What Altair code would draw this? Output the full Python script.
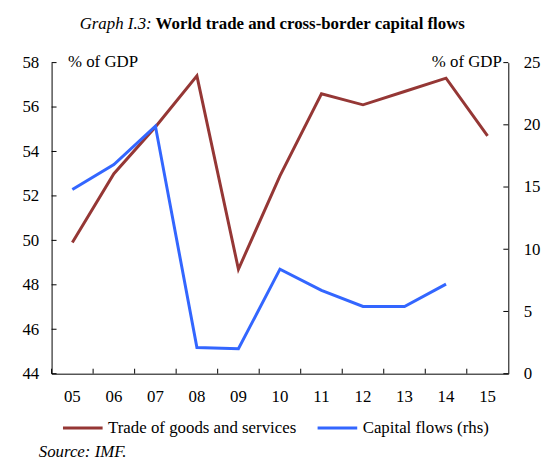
import altair as alt
import pandas as pd

years = ["05", "06", "07", "08", "09", "10", "11", "12", "13", "14", "15"]
trade = [49.9, 53.0, 55.1, 57.4, 48.7, 52.9, 56.6, 56.1, 56.7, 57.3, 54.7]
cap_years = ["05", "06", "07", "08", "09", "10", "11", "12", "13", "14"]
capital = [14.8, 16.8, 19.9, 2.1, 2.0, 8.4, 6.7, 5.4, 5.4, 7.2]
series = ["Trade of goods and services", "Capital flows (rhs)"]
colors = ["#953735", "#3366ff"]
left_ticks = [44, 46, 48, 50, 52, 54, 56, 58]
right_ticks = [0, 5, 10, 15, 20, 25]
left_domain = [44, 58]
right_domain = [0, 25]

FONT = "Liberation Serif"
FS = 17
W, H = 461, 314
TICK = 5

df_trade = pd.DataFrame({"year": years, "value": trade, "series": series[0]})
df_cap = pd.DataFrame({"year": cap_years, "value": capital, "series": series[1]})

xscale = alt.Scale(type="band", domain=years, paddingInner=0, paddingOuter=0)
xenc = alt.X(
    "year:O",
    bandPosition=0.5,
    scale=xscale,
    axis=alt.Axis(
        title=None, labelAngle=0, domain=False, ticks=False,
        labelPadding=15, grid=False,
    ),
)
color = alt.Color(
    "series:N",
    scale=alt.Scale(domain=series, range=colors),
    legend=alt.Legend(
        title=None, orient="none", legendX=10, legendY=347, direction="horizontal",
        symbolType="stroke", symbolSize=1600, symbolStrokeWidth=3,
        labelFont=FONT, labelFontSize=FS, labelColor="black", labelOffset=4,
        columnPadding=14, labelLimit=400,
    ),
)

trade_line = alt.Chart(df_trade).mark_line(strokeWidth=3).encode(
    x=xenc,
    y=alt.Y(
        "value:Q",
        scale=alt.Scale(domain=left_domain, nice=False, zero=False),
        axis=alt.Axis(
            values=left_ticks, orient="left", domain=False, ticks=False,
            labelPadding=13, grid=False, title="% of GDP", titleAngle=0,
            titleAlign="left", titleBaseline="alphabetic", titleX=16, titleY=4,
            titleFont=FONT, titleFontSize=FS, titleFontWeight="normal",
        ),
    ),
    color=color,
)

cap_line = alt.Chart(df_cap).mark_line(strokeWidth=3).encode(
    x=alt.X("year:O", bandPosition=0.5),
    y=alt.Y(
        "value:Q",
        scale=alt.Scale(domain=right_domain, nice=False),
        axis=alt.Axis(
            values=right_ticks, orient="right", domain=False, ticks=False,
            labelPadding=15, grid=False, title="% of GDP", titleAngle=0,
            titleAlign="right", titleBaseline="alphabetic", titleX=-7, titleY=4,
            titleFont=FONT, titleFontSize=FS, titleFontWeight="normal",
        ),
    ),
    color=color,
)

# inward tick marks, placed through the same scales as the axes
left_tick_marks = alt.Chart(pd.DataFrame({"v": left_ticks})).mark_rule(
    color="black", strokeWidth=1
).encode(
    y=alt.Y("v:Q", scale=alt.Scale(domain=left_domain, nice=False, zero=False), axis=None),
    x=alt.value(0), x2=alt.value(TICK),
)
right_tick_marks = alt.Chart(pd.DataFrame({"v": right_ticks})).mark_rule(
    color="black", strokeWidth=1
).encode(
    y=alt.Y("v:Q", scale=alt.Scale(domain=right_domain, nice=False), axis=None),
    x=alt.value(W - TICK), x2=alt.value(W),
)
x_tick_marks = alt.Chart(pd.DataFrame({"year": years})).mark_rule(
    color="black", strokeWidth=1
).encode(
    x=alt.X("year:O", bandPosition=0),
    y=alt.value(H - TICK), y2=alt.value(H),
)

title_prefix = alt.Chart(pd.DataFrame({"t": ["Graph I.3:"]})).mark_text(
    font=FONT, fontSize=17, fontStyle="italic", align="right", baseline="alphabetic"
).encode(text="t:N", x=alt.value(101), y=alt.value(-34))

title_main = alt.Chart(pd.DataFrame({"t": ["World trade and cross-border capital flows"]})).mark_text(
    font=FONT, fontSize=17, fontWeight="bold", align="left", baseline="alphabetic"
).encode(text="t:N", x=alt.value(105), y=alt.value(-34))

source = alt.Chart(pd.DataFrame({"t": ["Source: IMF."]})).mark_text(
    font=FONT, fontSize=FS, fontStyle="italic", align="left", baseline="alphabetic"
).encode(text="t:N", x=alt.value(-13), y=alt.value(398))

chart = (
    alt.layer(
        trade_line, cap_line, left_tick_marks, right_tick_marks, x_tick_marks,
        title_prefix, title_main, source,
    )
    .resolve_scale(y="independent")
    .properties(
        width=W, height=H,
        background="white",
        autosize=alt.AutoSizeParams(type="none"),
        padding={"left": 44, "top": 53, "right": 33, "bottom": 83},
    )
    .configure_view(stroke="black", strokeWidth=1, strokeDash=[0, W, W + 2 * H, 0])
    .configure_axis(
        labelFont=FONT, labelFontSize=FS, labelColor="black",
        titleColor="black",
    )
)

chart.save("out.html", embed_options={"renderer": "svg", "actions": False})
